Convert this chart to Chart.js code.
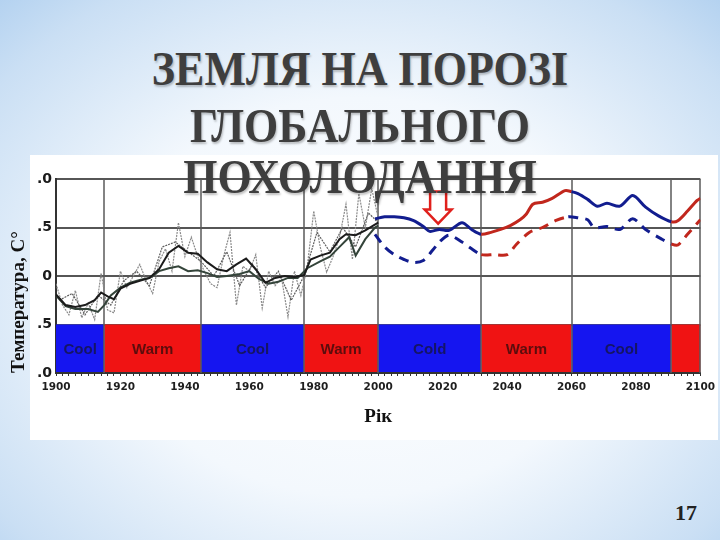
<!DOCTYPE html>
<html>
<head>
<meta charset="utf-8">
<script src="https://cdn.jsdelivr.net/npm/chart.js@4.4.0/dist/chart.umd.min.js"></script>
<style>
  html, body { margin: 0; padding: 0; }
  body {
    width: 720px; height: 540px; position: relative; overflow: hidden;
    background: radial-gradient(ellipse 78% 82% at 50% 55%, #ffffff 0%, #f3f8fd 45%, #cadff4 80%, #a8cbee 100%);
  }
  #box { position: absolute; left: 0; top: 155px; width: 720px; height: 285px; }
  .t {
    position: absolute; left: 0; width: 720px; height: 54px; line-height: 54px;
    text-align: center; white-space: nowrap; z-index: 2;
    font: bold 44px "Liberation Serif", serif; color: #3e3e3e;
    transform: scaleY(1.12);
    text-shadow: 1px 2px 2px rgba(0,0,0,0.25);
  }
  #num { position: absolute; left: 660px; top: 500px; width: 52px; text-align: center;
    font: bold 22px "Liberation Serif", serif; color: #222; }
</style>
</head>
<body>
<div class="t" style="top:43px">ЗЕМЛЯ НА ПОРОЗІ</div>
<div class="t" style="top:100px">ГЛОБАЛЬНОГО</div>
<div class="t" style="top:151px">ПОХОЛОДАННЯ</div>
<div id="box"><canvas id="chart" width="720" height="285"></canvas></div>
<div id="num">17</div>
<script>
// annual anomaly (light dotted)
const noisyYears = [1900,1902,1904,1906,1908,1910,1912,1914,1916,1918,1920,1922,1924,1926,1928,1930,1932,1934,1936,1938,
  1940,1942,1944,1946,1948,1950,1952,1954,1956,1958,1960,1962,1964,1966,1968,1970,1972,1974,1976,1978,
  1980,1982,1984,1986,1988,1990,1992,1994,1996,1998,2000];
const noisyTemps = [-0.08,-0.30,-0.40,-0.15,-0.43,-0.28,-0.45,0.03,-0.35,-0.38,0.05,-0.12,0.00,0.12,-0.05,-0.18,0.15,0.28,0.05,0.55,
  0.20,0.40,0.20,0.05,-0.08,-0.12,0.20,0.45,-0.30,0.10,0.05,0.22,-0.33,0.05,-0.10,-0.02,-0.42,0.05,-0.20,0.10,
  0.67,0.30,0.04,0.20,0.40,0.74,0.17,0.85,0.50,0.90,0.60];
// second annual record (gray dotted)
const noisy2Years = [1901,1905,1909,1913,1917,1921,1925,1929,1933,1937,1941,1945,1949,1953,1957,1961,1965,1969,1973,1977,1981,1985,1989,1993,1997,2000];
const noisy2Temps = [-0.25,-0.18,-0.40,-0.20,-0.30,-0.05,0.05,-0.10,0.30,0.35,0.25,0.15,0.00,0.25,-0.10,0.12,-0.12,0.05,-0.25,0.00,0.45,0.25,0.50,0.30,0.65,0.55];
// smoothed records
const smoothAYears = [1900,1903,1906,1909,1912,1914,1916,1918,1920,1923,1926,1929,1932,1935,1938,1941,1944,1947,1950,1953,
  1956,1959,1962,1965,1968,1971,1974,1977,1979,1982,1985,1988,1990,1993,1996,2000];
const smoothATemps = [-0.19,-0.30,-0.32,-0.30,-0.25,-0.17,-0.21,-0.24,-0.13,-0.08,-0.05,-0.02,0.07,0.24,0.31,0.24,0.23,0.14,0.07,0.05,
  0.12,0.18,0.07,-0.07,-0.02,0.00,-0.01,0.01,0.17,0.21,0.24,0.38,0.43,0.42,0.47,0.55];
const smoothBYears = [1900,1903,1906,1910,1913,1915,1917,1920,1923,1926,1929,1932,1935,1938,1941,1944,1947,1950,1953,1957,
  1960,1963,1966,1969,1972,1975,1978,1982,1985,1988,1991,1993,1996,1999,2000];
const smoothBTemps = [-0.20,-0.31,-0.34,-0.34,-0.37,-0.30,-0.20,-0.12,-0.07,-0.04,-0.02,0.05,0.08,0.10,0.05,0.06,0.03,-0.01,0.00,0.02,
  0.05,-0.03,-0.08,-0.06,-0.02,-0.02,0.08,0.15,0.20,0.30,0.40,0.21,0.38,0.50,0.52];
// forecast, solid
const solidYears = [1999,2002,2005,2008,2011,2014,2016,2019,2022,2026,2029,2032,2035,2038,2041,2044,2046,2048,2051,2054,2058,2060,
  2062,2065,2068,2071,2075,2079,2083,2087,2091,2093,2096,2099,2100];
const solidTemps = [0.59,0.61,0.61,0.60,0.57,0.51,0.46,0.48,0.47,0.55,0.48,0.43,0.45,0.48,0.52,0.58,0.64,0.74,0.76,0.80,0.88,0.87,
  0.85,0.79,0.72,0.75,0.72,0.83,0.71,0.62,0.56,0.57,0.67,0.78,0.80];
// forecast, dashed
const dashedYears = [1999,2002,2005,2008,2011,2014,2017,2019,2022,2026,2029,2032,2036,2040,2043,2047,2051,2055,2059,
  2062,2065,2067,2071,2075,2079,2083,2088,2091,2093,2096,2100];
const dashedTemps = [0.43,0.30,0.22,0.17,0.14,0.16,0.27,0.35,0.42,0.35,0.28,0.22,0.22,0.22,0.33,0.45,0.50,0.57,0.61,
  0.60,0.58,0.50,0.51,0.48,0.59,0.48,0.38,0.33,0.32,0.43,0.58];
// cool / warm periods
const bandStarts = [1900,1915,1945,1977,2000,2032,2060,2091];
const bandEnds   = [1915,1945,1977,2000,2032,2060,2091,2100];
const bandKinds  = ['cool','warm','cool','warm','cool','warm','cool','warm'];
const bandLabels = ['Cool','Warm','Cool','Warm','Cold','Warm','Cool',''];
// ticks
const xTickLabels = ['1900','1920','1940','1960','1980','2000','2020','2040','2060','2080','2100'];
const yTickValues = [-1, -0.5, 0, 0.5, 1];
const yTickLabels = ['.0', '.5', '0', '.5', '.0'];
// arrow marker
const arrowYear = 2018.6, arrowTemp = 0.54;

const BLUE = '#121d8f', RED = '#c1271d';
const toPts = (xs, ys) => xs.map((x, i) => ({ x: x, y: ys[i] }));

function kindAt(year) {
  for (let i = bandStarts.length - 1; i >= 0; i--) if (year >= bandStarts[i]) return bandKinds[i];
  return bandKinds[0];
}
const segColor = ctx => kindAt((ctx.p0.parsed.x + ctx.p1.parsed.x) / 2) === 'warm' ? RED : BLUE;

const slideBits = {
  id: 'slideBits',
  beforeDraw(chart) {
    const c = chart.ctx;
    c.save();
    c.fillStyle = '#ffffff';
    c.fillRect(30, 0, 688, chart.height);
    c.restore();
  },
  beforeDatasetsDraw(chart) {
    const { ctx, chartArea: a, scales: { x, y } } = chart;
    const yTop = y.getPixelForValue(-0.5), yBot = y.getPixelForValue(-1);
    ctx.save();
    bandStarts.forEach((s, i) => {
      const x0 = x.getPixelForValue(s), x1 = x.getPixelForValue(bandEnds[i]);
      ctx.fillStyle = bandKinds[i] === 'warm' ? '#f01313' : '#1515f0';
      ctx.fillRect(x0, yTop, x1 - x0, yBot - yTop - 1);
      if (bandLabels[i]) {
        ctx.fillStyle = bandKinds[i] === 'warm' ? '#5c0d0d' : '#151565';
        ctx.font = 'bold 15px "Liberation Sans", Arial, sans-serif';
        ctx.textAlign = 'center';
        ctx.textBaseline = 'middle';
        ctx.fillText(bandLabels[i], (x0 + x1) / 2, (yTop + yBot) / 2 + 1);
      }
    });
    ctx.strokeStyle = '#5a5a5a';
    ctx.lineWidth = 1.5;
    bandStarts.slice(1).concat([bandEnds[bandEnds.length - 1]]).forEach(s => {
      const px = Math.round(x.getPixelForValue(s));
      ctx.beginPath();
      ctx.moveTo(px, a.top);
      ctx.lineTo(px, a.bottom);
      ctx.stroke();
    });
    ctx.restore();
  },
  afterDatasetsDraw(chart) {
    const { ctx, scales: { x, y } } = chart;
    const tx = x.getPixelForValue(arrowYear), ty = y.getPixelForValue(arrowTemp);
    ctx.save();
    ctx.strokeStyle = '#e0201c';
    ctx.lineWidth = 2.5;
    ctx.lineJoin = 'miter';
    ctx.beginPath();
    ctx.moveTo(tx, ty);
    ctx.lineTo(tx - 13.5, ty - 14);
    ctx.lineTo(tx - 8, ty - 14);
    ctx.lineTo(tx - 8, ty - 32);
    ctx.lineTo(tx + 8, ty - 32);
    ctx.lineTo(tx + 8, ty - 14);
    ctx.lineTo(tx + 13.5, ty - 14);
    ctx.closePath();
    ctx.stroke();
    ctx.restore();
  }
};

new Chart(document.getElementById('chart'), {
  type: 'line',
  data: {
    datasets: [
      { data: toPts(solidYears, solidTemps), borderColor: BLUE, borderWidth: 3, tension: 0.3,
        segment: { borderColor: segColor } },
      { data: toPts(dashedYears, dashedTemps), borderColor: BLUE, borderWidth: 3, tension: 0.3,
        borderDash: [10, 7], segment: { borderColor: segColor } },
      { data: toPts(smoothAYears, smoothATemps), borderColor: '#1b1b1b', borderWidth: 2 },
      { data: toPts(smoothBYears, smoothBTemps), borderColor: '#34443a', borderWidth: 2 },
      { data: toPts(noisy2Years, noisy2Temps), borderColor: '#5e5e5e', borderWidth: 1.2, borderDash: [2, 1] },
      { data: toPts(noisyYears, noisyTemps), borderColor: '#8a8a8a', borderWidth: 1.2, borderDash: [2, 1] }
    ]
  },
  options: {
    responsive: false,
    animation: false,
    layout: { padding: { left: 0, right: 14, top: 24, bottom: 0 } },
    elements: { point: { radius: 0 } },
    plugins: { legend: { display: false }, tooltip: { enabled: false } },
    scales: {
      x: {
        type: 'linear', min: 1900, max: 2100,
        afterFit: s => { s.height = 67; },
        grid: { drawOnChartArea: false, drawTicks: true, tickLength: 3, color: '#333', lineWidth: 1 },
        border: { display: true, color: '#333', width: 2 },
        ticks: {
          stepSize: 2, autoSkip: false, maxRotation: 0, minRotation: 0, padding: 5,
          color: '#1e1e1e', font: { family: 'DejaVu Sans', weight: 'bold', size: 10.5 },
          callback: v => xTickLabels.includes(String(v)) ? String(v) : ''
        },
        title: { display: true, text: 'Рік', color: '#111',
          font: { family: 'Liberation Serif', weight: 'bold', size: 19 }, padding: { top: 0, bottom: 12 } }
      },
      y: {
        min: -1, max: 1,
        afterFit: s => { s.width = 56; },
        grid: { color: '#565656', lineWidth: 2, drawTicks: false },
        border: { display: true, color: '#333', width: 2 },
        ticks: {
          stepSize: 0.5, padding: 4, color: '#1a1a1a',
          font: { family: 'DejaVu Sans', weight: 'bold', size: 14 },
          callback: v => yTickLabels[yTickValues.indexOf(v)]
        },
        title: { display: true, text: 'Температура, C°', align: 'start', color: '#111',
          font: { family: 'Liberation Serif', weight: 'bold', size: 19 }, padding: { top: 8, bottom: 0 } }
      }
    }
  },
  plugins: [slideBits]
});
</script>
</body>
</html>
